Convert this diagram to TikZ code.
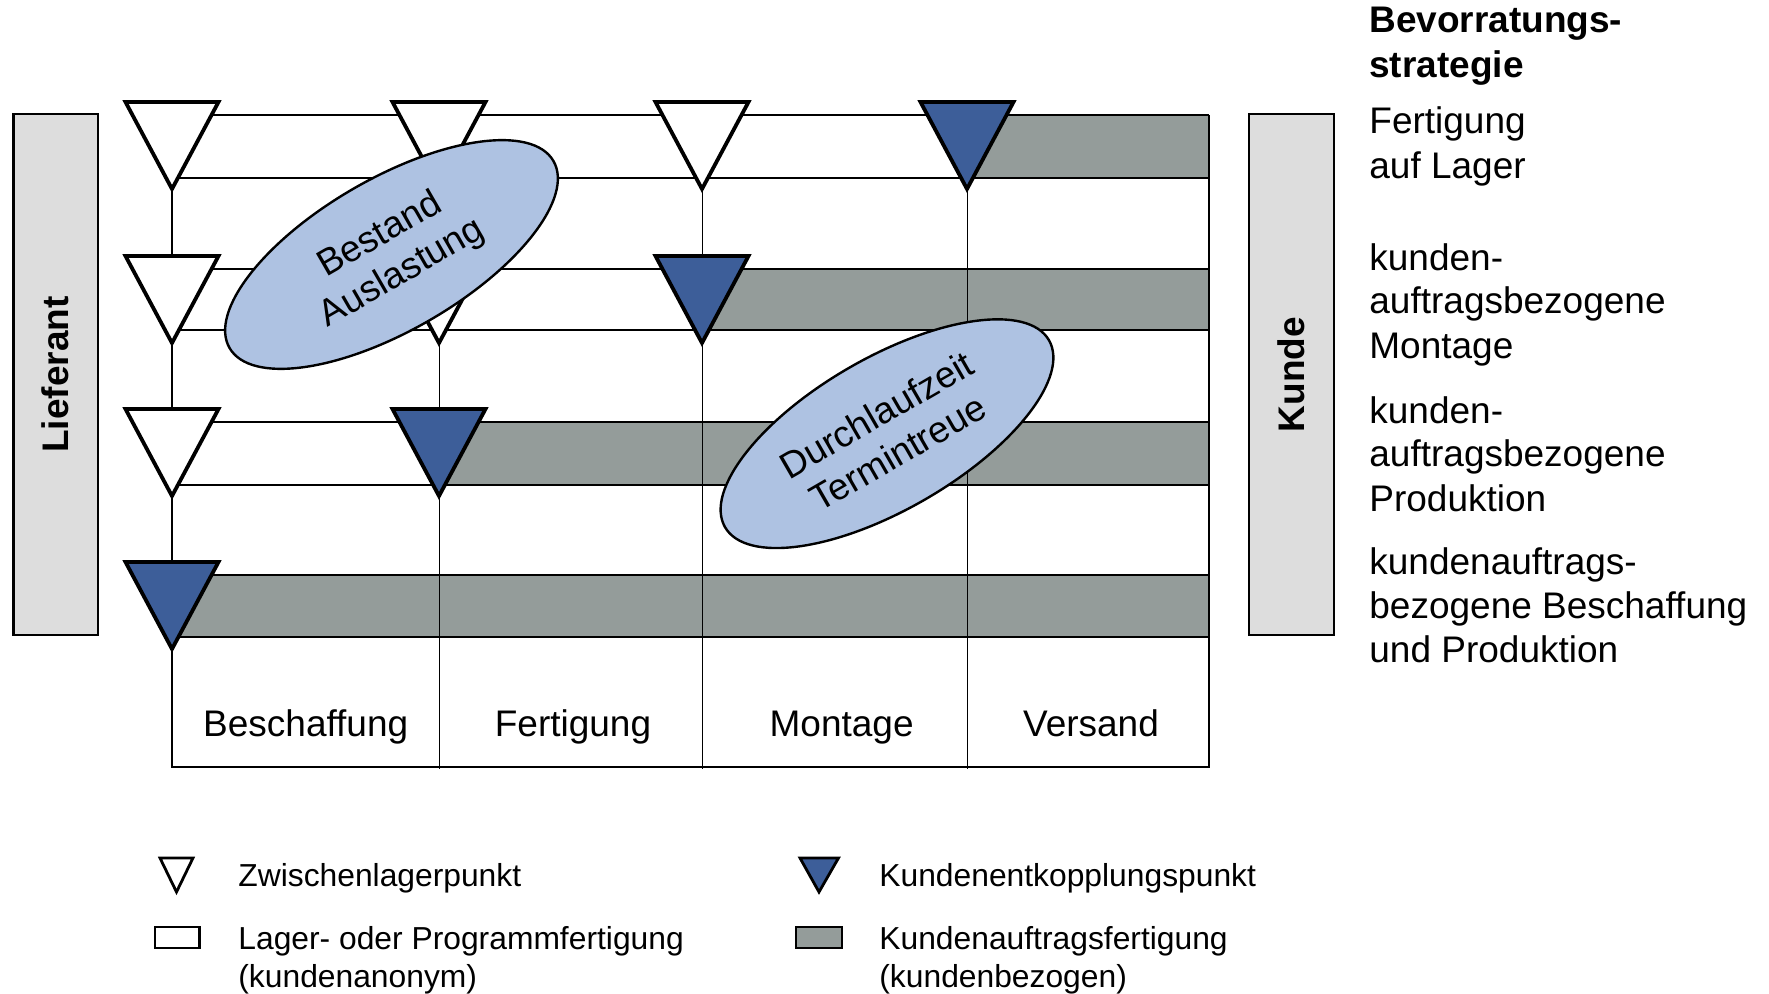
\documentclass[tikz,border=0pt]{standalone}
\usepackage{fontspec}
\setmainfont{Liberation Sans}
\usetikzlibrary{shapes.geometric}
\definecolor{kepblue}{RGB}{61,94,153}
\definecolor{bandgray}{RGB}{148,156,154}
\definecolor{ellblue}{RGB}{174,194,226}
\definecolor{sidegray}{RGB}{221,221,221}

\begin{document}
\begin{tikzpicture}[
  x=0.5pt, y=-0.5pt,
  every node/.style={font=\fontsize{18.5}{21.75}\selectfont, inner sep=0pt},
  rule/.style={line width=1.35pt},
  thinrule/.style={line width=0.5pt},
  lagerpt/.style={draw, line width=1.9pt, fill=white, line join=miter},
  kep/.style={lagerpt, fill=kepblue},
  sidebox/.style={draw, line width=1.1pt, fill=sidegray, rotate=90,
                  minimum width=260.5pt, minimum height=42.25pt,
                  font=\fontsize{18.5}{21.75}\selectfont\bfseries},
  target/.style={draw, ellipse, line width=1.2pt, fill=ellblue, rotate=30,
                 minimum width=187pt, minimum height=76pt, align=center},
  phase/.style={anchor=base},
  strat/.style={anchor=base west},
  legend/.style={anchor=base west, font=\fontsize{15.9}{18.7}\selectfont},
]
\useasboundingbox (0,0) rectangle (1769,994);

% Kundenauftragsfertigung (grey bands)
\foreach \t/\b/\k in {115/178/967, 269/330/702, 422/485/439, 575/637/172}
  \fill[bandgray] (\k,\t) rectangle (1209,\b);

% phase boundaries
\foreach \x in {439,702,967}
  \draw[thinrule] (\x,115) -- (\x,769);

% band borders and frame
\foreach \t/\b in {115/178, 269/330, 422/485, 575/637}
  \draw[rule] (172,\t) -- (1209,\t) (172,\b) -- (1209,\b);
\draw[rule] (172,115) -- (172,767) -- (1209,767) -- (1209,115);

% Zwischenlagerpunkte
\foreach \x/\t in {172/115, 439/115, 702/115, 172/269, 439/269, 172/422}
  \draw[lagerpt] (\x-46.5,\t-13) -- (\x+46.5,\t-13) -- (\x,\t+74) -- cycle;
% Kundenentkopplungspunkte
\foreach \x/\t in {967/115, 702/269, 439/422, 172/575}
  \draw[kep] (\x-46.5,\t-13) -- (\x+46.5,\t-13) -- (\x,\t+74) -- cycle;

\node[target] (bestand)   at (391.5,254.5) {Bestand\\Auslastung};
\node[target] (durchlauf) at (887,433.7)   {Durchlaufzeit\\Termintreue};

\node[sidebox] (lieferant) at (55.75,374.5)  {Lieferant};
\node[sidebox] (kunde)     at (1291.5,374.5) {Kunde};

\foreach \x/\lbl [count=\i] in {305.7/Beschaffung, 573/Fertigung,
                                841.6/Montage, 1091/Versand}
  \node[phase] (phase\i) at (\x,736.5) {\lbl};

% Bevorratungsstrategie
\node[strat, font=\fontsize{18.5}{21.75}\selectfont\bfseries] (titel1) at (1369,33) {Bevorratungs-};
\node[strat, font=\fontsize{18.5}{21.75}\selectfont\bfseries] (titel2) at (1369,78) {strategie};
\foreach \yy/\txt [count=\i] in {134/Fertigung, 179/auf Lager,
    270.4/kunden-, 314/auftragsbezogene, 358.5/Montage,
    423.6/kunden-, 467/auftragsbezogene, 511.8/Produktion,
    574.8/kundenauftrags-, 618.3/bezogene Beschaffung, 663/und Produktion}
  \node[strat] (strat\i) at (1369,\yy) {\txt};

% legend
\draw[lagerpt, line width=1.4pt] (160,858) -- (193,858) -- (176.5,892) -- cycle;
\draw[kep, line width=1.4pt] (800,858) -- (838.5,858) -- (819,892) -- cycle;
\draw[line width=1.2pt, fill=white] (155,927) rectangle (199.5,948);
\draw[line width=1.2pt, fill=bandgray] (796,927) rectangle (842,948);
\node[legend] (lzw)     at (238,886) {Zwischenlagerpunkt};
\node[legend] (lkep)    at (879,886) {Kundenentkopplungspunkt};
\node[legend] (llager)  at (238,949) {Lager- oder Programmfertigung};
\node[legend] (llager2) at (238,987) {(kundenanonym)};
\node[legend] (lka)     at (879,949) {Kundenauftragsfertigung};
\node[legend] (lka2)    at (879,987) {(kundenbezogen)};
\end{tikzpicture}
\end{document}
